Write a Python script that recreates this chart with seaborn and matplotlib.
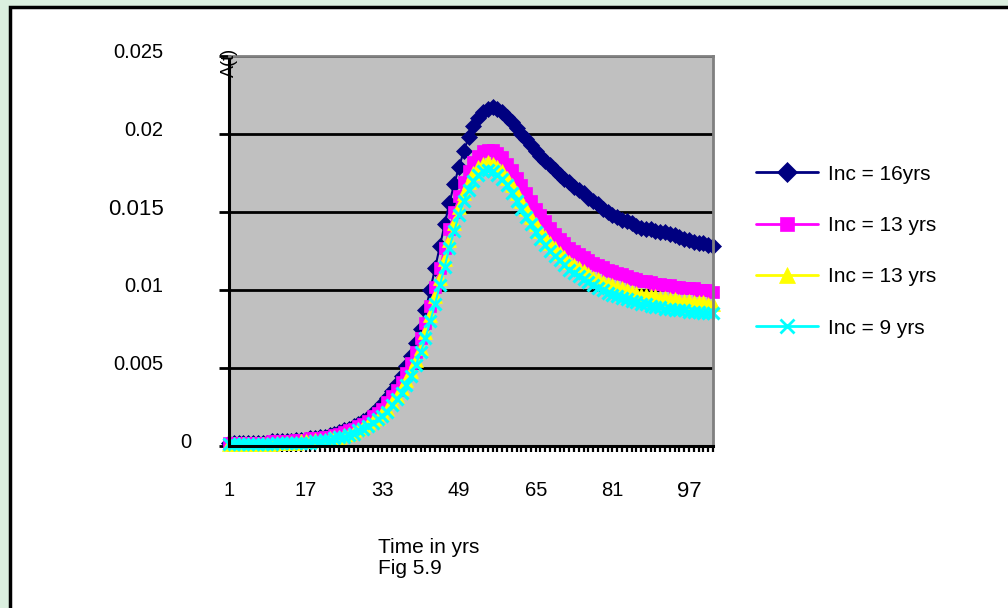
import seaborn as sns
import matplotlib.pyplot as plt
import matplotlib.transforms as mtrans
from matplotlib.patches import Rectangle
from matplotlib.lines import Line2D

years = list(range(1, 103))

inc_16 = [0.0002, 0.0002, 0.0002, 0.0002, 0.0002, 0.0002, 0.0002, 0.0002, 0.0002, 0.0003,
          0.0003, 0.0003, 0.0003, 0.0003, 0.0004, 0.0004, 0.0004, 0.0005, 0.0005, 0.0006,
          0.0006, 0.0007, 0.0008, 0.0009, 0.0010, 0.0011, 0.0013, 0.0014, 0.0016, 0.0018,
          0.0021, 0.0024, 0.0027, 0.0031, 0.0035, 0.0040, 0.0045, 0.0051, 0.0058, 0.0066,
          0.0075, 0.0087, 0.0100, 0.0114, 0.0128, 0.0142, 0.0156, 0.0168, 0.0179, 0.0189,
          0.0198, 0.0205, 0.0210, 0.0214, 0.0216, 0.0217, 0.0216, 0.0214, 0.0211, 0.0208,
          0.0204, 0.0200, 0.0197, 0.0193, 0.0189, 0.0186, 0.0183, 0.0180, 0.0177, 0.0174,
          0.0171, 0.0169, 0.0166, 0.0164, 0.0162, 0.0159, 0.0157, 0.0155, 0.0152, 0.0150,
          0.0148, 0.0147, 0.0145, 0.0144, 0.0143, 0.0141, 0.0140, 0.0139, 0.0139, 0.0138,
          0.0137, 0.0137, 0.0136, 0.0135, 0.0134, 0.0133, 0.0132, 0.0131, 0.0130, 0.0130,
          0.0129, 0.0128]

inc_13a = [0.0002, 0.0002, 0.0002, 0.0002, 0.0002, 0.0002, 0.0002, 0.0002, 0.0002, 0.0003,
           0.0003, 0.0003, 0.0003, 0.0003, 0.0004, 0.0004, 0.0004, 0.0005, 0.0005, 0.0005,
           0.0006, 0.0006, 0.0007, 0.0008, 0.0009, 0.0010, 0.0011, 0.0013, 0.0014, 0.0016,
           0.0019, 0.0021, 0.0024, 0.0028, 0.0032, 0.0036, 0.0041, 0.0047, 0.0053, 0.0060,
           0.0069, 0.0079, 0.0090, 0.0102, 0.0114, 0.0127, 0.0139, 0.0150, 0.0160, 0.0169,
           0.0176, 0.0182, 0.0186, 0.0189, 0.0190, 0.0190, 0.0188, 0.0185, 0.0181, 0.0177,
           0.0172, 0.0167, 0.0162, 0.0157, 0.0152, 0.0148, 0.0144, 0.0140, 0.0136, 0.0133,
           0.0130, 0.0127, 0.0125, 0.0123, 0.0121, 0.0119, 0.0117, 0.0116, 0.0115, 0.0113,
           0.0112, 0.0111, 0.0110, 0.0109, 0.0108, 0.0107, 0.0106, 0.0106, 0.0105, 0.0104,
           0.0104, 0.0103, 0.0103, 0.0102, 0.0102, 0.0101, 0.0101, 0.0101, 0.0100, 0.0100,
           0.0100, 0.0099]

inc_13b = [0.0001, 0.0001, 0.0001, 0.0001, 0.0001, 0.0001, 0.0001, 0.0001, 0.0001, 0.0001,
           0.0002, 0.0002, 0.0002, 0.0002, 0.0002, 0.0003, 0.0003, 0.0003, 0.0004, 0.0004,
           0.0004, 0.0005, 0.0006, 0.0006, 0.0007, 0.0008, 0.0009, 0.0011, 0.0012, 0.0014,
           0.0016, 0.0018, 0.0021, 0.0024, 0.0028, 0.0032, 0.0037, 0.0042, 0.0048, 0.0055,
           0.0063, 0.0073, 0.0084, 0.0096, 0.0108, 0.0120, 0.0132, 0.0143, 0.0153, 0.0162,
           0.0169, 0.0175, 0.0179, 0.0181, 0.0182, 0.0181, 0.0179, 0.0176, 0.0172, 0.0167,
           0.0162, 0.0157, 0.0152, 0.0147, 0.0142, 0.0138, 0.0134, 0.0130, 0.0127, 0.0124,
           0.0121, 0.0118, 0.0116, 0.0114, 0.0112, 0.0110, 0.0108, 0.0107, 0.0105, 0.0104,
           0.0103, 0.0102, 0.0101, 0.0100, 0.0099, 0.0098, 0.0097, 0.0097, 0.0096, 0.0096,
           0.0095, 0.0095, 0.0094, 0.0094, 0.0093, 0.0093, 0.0093, 0.0092, 0.0092, 0.0092,
           0.0091, 0.0091]

inc_9 = [0.0001, 0.0001, 0.0001, 0.0001, 0.0001, 0.0001, 0.0001, 0.0001, 0.0001, 0.0001,
         0.0002, 0.0002, 0.0002, 0.0002, 0.0002, 0.0002, 0.0002, 0.0002, 0.0003, 0.0003,
         0.0004, 0.0004, 0.0005, 0.0006, 0.0006, 0.0007, 0.0008, 0.0010, 0.0011, 0.0013,
         0.0015, 0.0017, 0.0019, 0.0022, 0.0026, 0.0030, 0.0034, 0.0039, 0.0045, 0.0052,
         0.0060, 0.0069, 0.0080, 0.0091, 0.0103, 0.0115, 0.0127, 0.0138, 0.0148, 0.0157,
         0.0164, 0.0170, 0.0174, 0.0176, 0.0177, 0.0176, 0.0174, 0.0171, 0.0167, 0.0162,
         0.0157, 0.0152, 0.0147, 0.0142, 0.0137, 0.0133, 0.0129, 0.0125, 0.0122, 0.0119,
         0.0116, 0.0113, 0.0111, 0.0109, 0.0107, 0.0105, 0.0103, 0.0101, 0.0100, 0.0098,
         0.0097, 0.0096, 0.0095, 0.0094, 0.0093, 0.0092, 0.0091, 0.0091, 0.0090, 0.0089,
         0.0089, 0.0088, 0.0088, 0.0087, 0.0087, 0.0087, 0.0086, 0.0086, 0.0086, 0.0085,
         0.0085, 0.0085]

series_labels = ["Inc = 16yrs", "Inc = 13 yrs", "Inc = 13 yrs", "Inc = 9 yrs"]
y_ticks = [0, 0.005, 0.01, 0.015, 0.02, 0.025]
y_ticklabels = ["0", "0.005", "0.01", "0.015", "0.02", "0.025"]
x_labeled = [1, 17, 33, 49, 65, 81, 97]

sns.set_style("white")
plt.rcParams['font.family'] = ['Liberation Sans', 'DejaVu Sans']
plt.rcParams['text.color'] = 'black'
plt.rcParams['xtick.color'] = 'black'
plt.rcParams['ytick.color'] = 'black'

fig = plt.figure(figsize=(10.08, 6.08), dpi=100)
fig.patch.set_facecolor('#dbefdf')
# white chart area with black frame (runs off the right/bottom edges)
fig.patches.append(Rectangle((10 / 1008, -0.2), 1.2, 1.2 - 7 / 608,
                             transform=fig.transFigure, facecolor='white',
                             edgecolor='black', lw=2.5, zorder=-5))

ax = fig.add_axes([229 / 1008, 1 - 446 / 608, 484 / 1008, 390 / 608])
ax.set_facecolor('#c0c0c0')

styles = [
    (inc_16, '#000080', 'D', 8.5),
    (inc_13a, '#ff00ff', 's', 8.5),
    (inc_13b, '#ffff00', '^', 9.5),
    (inc_9, '#00ffff', 'x', 8.0),
]
for vals, col, mk, ms in styles:
    sns.lineplot(x=years, y=vals, ax=ax, color=col, marker=mk, markersize=ms,
                 markeredgecolor=col, markeredgewidth=2.2 if mk == 'x' else 0.5,
                 lw=1.5, clip_on=False)

ax.set_xlim(1, 102)
ax.set_ylim(0, 0.025)
ax.set_axisbelow(True)
ax.grid(axis='y', color='black', lw=2)
ax.grid(axis='x', visible=False)

ax.set_yticks(y_ticks)
ax.set_yticklabels(y_ticklabels)
ax.set_xticks(x_labeled)
ax.set_xticklabels([str(v) for v in x_labeled])
ax.set_xticks(years, minor=True)

ax.tick_params(axis='y', which='major', left=True, length=7.2, width=2,
               color='black', pad=40, labelsize=14.5, direction='out')
ax.tick_params(axis='x', which='both', bottom=True, length=4.5, width=1.6,
               color='black', direction='out')
ax.tick_params(axis='x', which='major', pad=21, labelsize=14.5)

for spine in ['left', 'bottom']:
    ax.spines[spine].set_color('black')
    ax.spines[spine].set_linewidth(2.2)
for spine in ['top', 'right']:
    ax.spines[spine].set_color('#808080')
    ax.spines[spine].set_linewidth(2)

up = mtrans.ScaledTranslation(0, 5 / 100, fig.dpi_scale_trans)
for lab in ax.get_yticklabels():
    lab.set_transform(lab.get_transform() + up)
    if lab.get_text() == "0":
        lab.set_transform(lab.get_transform() +
                          mtrans.ScaledTranslation(28 / 100, 0, fig.dpi_scale_trans))
    if lab.get_text() == "0.015":
        lab.set_fontsize(16)
for lab in ax.get_xticklabels():
    if lab.get_text() == "97":
        lab.set_fontsize(16)

ax.set_xlabel("")
ax.set_ylabel("")
fig.text(229 / 1008, 1 - 62 / 608, "A(t)", rotation=90, ha='center', va='center',
         fontsize=13)
fig.text(378 / 1008, 1 - 538 / 608, "Time in yrs\nFig 5.9", ha='left', va='top',
         fontsize=15, linespacing=1.1)

handles = [Line2D([], [], color=col, marker=mk, markersize=ms + 2,
                  markeredgecolor=col, markeredgewidth=2 if mk == 'x' else 0.5, lw=2)
           for _, col, mk, ms in styles]
fig.legend(handles, series_labels, loc='upper left',
           bbox_to_anchor=(737 / 1008, 1 - 146 / 608), frameon=False,
           fontsize=15, handlelength=3.0, handletextpad=0.45, labelspacing=1.55)

fig.savefig("out.png", dpi=100)
